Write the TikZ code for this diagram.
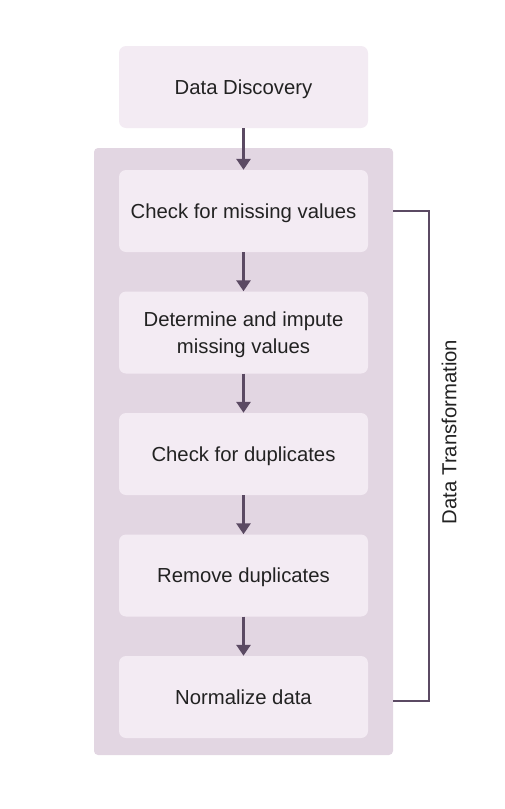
\documentclass[tikz,border=0pt]{standalone}
\usepackage{fontspec}
\setmainfont{Liberation Sans}
\usetikzlibrary{arrows.meta}
\definecolor{boxfill}{HTML}{F3EBF3}
\definecolor{contfill}{HTML}{E2D6E2}
\definecolor{arr}{HTML}{5B4A63}
\definecolor{txt}{HTML}{222222}
\begin{document}
\begin{tikzpicture}[x=1pt,y=-1pt,
  stepbox/.style={fill=boxfill,rounded corners=7pt,minimum width=249pt,minimum height=82pt,inner sep=0pt,align=center,text=txt,text depth=0pt,font=\fontsize{20.3}{27}\selectfont},
  flow/.style={draw=arr,line width=3pt,-{Triangle[width=14pt,length=11pt]}},
  brk/.style={draw=arr,line width=2pt}]
\useasboundingbox (0,0) rectangle (505,809);
\fill[contfill,rounded corners=4pt] (94,148) rectangle (393,755);
\node[stepbox] (d) at (243.5,87) {Data Discovery};
\node[stepbox] (s1) at (243.5,211) {Check for missing values};
\node[stepbox] (s2) at (243.5,332.5) {Determine and impute\\missing values};
\node[stepbox] (s3) at (243.5,454) {Check for duplicates};
\node[stepbox] (s4) at (243.5,575.5) {Remove duplicates};
\node[stepbox] (s5) at (243.5,697) {Normalize data};
\draw[flow] (d) -- (s1);
\draw[flow] (s1) -- (s2);
\draw[flow] (s2) -- (s3);
\draw[flow] (s3) -- (s4);
\draw[flow] (s4) -- (s5);
\coordinate (b1) at (393,211);
\coordinate (b2) at (393,701);
\draw[brk] (b1) -- (429,211) -- (429,701) -- (b2);
\node[rotate=90,text=txt,font=\fontsize{20.3}{27}\selectfont] (lbl) at (449,432) {Data Transformation};
\end{tikzpicture}
\end{document}
